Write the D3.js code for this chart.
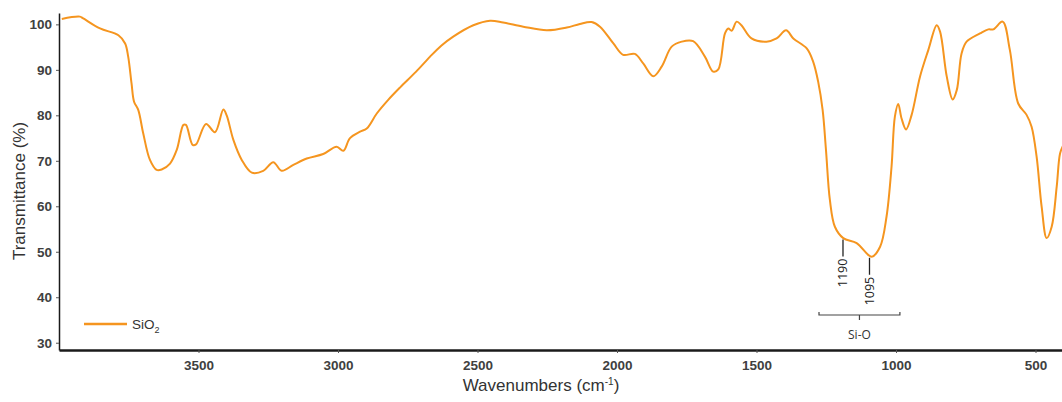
<!DOCTYPE html>
<html>
<head>
<meta charset="utf-8">
<script src="https://cdn.jsdelivr.net/npm/d3@7"></script>
<style>
  html, body { margin: 0; padding: 0; background: #fff; }
  svg { display: block; }
</style>
</head>
<body>
<svg id="chart" width="1062" height="402"></svg>
<script>
// ---- data ----
const wavenumbers = [3990,3925,3913,3853,3787,3763,3752,3740,3731,3716,3698,3674,3650,3632,3602,3578,3554,3545,3521,3509,3473,3441,3411,3399,3375,3345,3309,3268,3232,3202,3160,3112,3053,3005,2981,2957,2921,2897,2861,2820,2778,2720,2670,2630,2587,2515,2455,2408,2336,2252,2180,2133,2091,2061,2013,1978,1936,1906,1870,1840,1804,1768,1727,1685,1655,1637,1613,1601,1589,1571,1554,1518,1464,1428,1394,1368,1320,1297,1279,1263,1251,1237,1219,1189,1141,1087,1057,1034,1016,1004,992,980,964,944,914,884,854,842,818,797,782,765,747,699,669,651,618,592,562,532,514,496,478,460,442,424,412,400];
const transmittance = [101.2,101.7,101.3,99.1,97.6,95.8,92.9,87.0,83.0,81.2,76.0,70.2,68.0,68.1,69.4,72.4,77.9,77.9,73.5,73.6,78.1,76.3,81.3,80.0,74.6,70.2,67.4,67.8,69.7,67.8,69.1,70.5,71.5,73.1,72.2,75.0,76.4,77.1,80.4,83.4,86.1,89.6,92.9,95.3,97.3,99.8,100.8,100.4,99.5,98.7,99.3,100.1,100.5,99.5,95.8,93.3,93.5,91.4,88.6,90.7,95.1,96.2,96.3,92.9,89.6,90.1,98.0,99.1,98.6,100.6,99.8,96.9,96.2,96.9,98.7,96.9,94.7,91.8,87.4,81.2,72.4,61.4,55.5,53.0,51.9,48.9,51.1,57.7,68.7,79.7,82.5,79.3,76.9,80.1,88.5,94.4,99.8,98.4,88.5,83.5,85.6,93.6,96.2,98.0,98.9,98.9,100.6,94.4,82.6,80.1,77.5,70.9,59.9,53.0,55.5,64.3,71.6,73.5];
const xTicks = [3500,3000,2500,2000,1500,1000,500];
const yTicks = [30,40,50,60,70,80,90,100];
const peakLabels = ["1190","1095"];
const peakWavenumbers = [1190,1095];
const peakValues = [52.9,48.9];
const groupLabel = "Si-O";
const groupRange = [1276,986];
const seriesName = "SiO";
const seriesSub = "2";
const xTitle = "Wavenumbers (cm";
const yTitle = "Transmittance (%)";

// ---- layout ----
const svg = d3.select("#chart");
const mLeft = 59, mRight = 1063.4, mTop = 13, mBottom = 350;
const x = d3.scaleLinear().domain([4000, 400]).range([mLeft, mRight]);
const y = d3.scaleLinear().domain([28.4, 102.5]).range([mBottom, mTop]);
const orange = "#f5951f";
const font = "'Liberation Sans', Arial, sans-serif";

const data = wavenumbers.map((w, i) => ({w, t: transmittance[i]}));

// curve
const line = d3.line().x(d => x(d.w)).y(d => y(d.t)).curve(d3.curveCatmullRom.alpha(0.5));
svg.append("path").datum(data)
  .attr("d", line).attr("fill", "none")
  .attr("stroke", orange).attr("stroke-width", 2).attr("stroke-linejoin", "round");

// axes
const xAxis = d3.axisBottom(x).tickValues(xTicks).tickFormat(d3.format("d"))
  .tickSize(3).tickPadding(7).tickSizeOuter(0);
const gx = svg.append("g").attr("transform", `translate(0,${mBottom})`).call(xAxis);
gx.select(".domain").attr("stroke", "#1a1a1a").attr("stroke-width", 2.5);
gx.selectAll(".tick line").attr("stroke", "#555");
gx.selectAll(".tick text").attr("font-family", font).attr("font-size", 13.5)
  .attr("font-weight", "bold").attr("fill", "#404040");

const yAxis = d3.axisLeft(y).tickValues(yTicks).tickFormat(d3.format("d"))
  .tickSize(3).tickPadding(4).tickSizeOuter(0);
const gy = svg.append("g").attr("transform", `translate(${mLeft},0)`).call(yAxis);
gy.select(".domain").attr("stroke", "#1a1a1a").attr("stroke-width", 1.5);
gy.selectAll(".tick line").attr("stroke", "#555");
gy.selectAll(".tick text").attr("font-family", font).attr("font-size", 13.5)
  .attr("font-weight", "bold").attr("fill", "#404040");

// axis titles
const xt = svg.append("text").attr("x", 541).attr("y", 391)
  .attr("text-anchor", "middle").attr("font-family", font).attr("font-size", 17).attr("fill", "#333");
xt.append("tspan").text(xTitle);
xt.append("tspan").text("-1").attr("font-size", 10).attr("dy", -6);
xt.append("tspan").text(")").attr("dy", 6);

svg.append("text").attr("transform", "translate(25,191) rotate(-90)")
  .attr("text-anchor", "middle").attr("font-family", font).attr("font-size", 17).attr("fill", "#333")
  .text(yTitle);

// legend
svg.append("line").attr("x1", 84).attr("x2", 127).attr("y1", 324).attr("y2", 324)
  .attr("stroke", orange).attr("stroke-width", 2.5);
const lt = svg.append("text").attr("x", 132).attr("y", 329)
  .attr("font-family", font).attr("font-size", 13.5).attr("fill", "#333");
lt.append("tspan").text(seriesName);
lt.append("tspan").text(seriesSub).attr("font-size", 9).attr("dy", 4);

// peak annotations
const annFont = "'Open Sans', 'Liberation Sans', sans-serif";
peakLabels.forEach((lab, i) => {
  const px = x(peakWavenumbers[i]);
  const py0 = y(peakValues[i]) + 1;
  const py1 = py0 + 17;
  svg.append("line").attr("x1", px).attr("x2", px).attr("y1", py0).attr("y2", py1)
    .attr("stroke", "#222").attr("stroke-width", 1.3);
  svg.append("text").attr("transform", `translate(${px},${py1 + 2}) rotate(-90)`)
    .attr("text-anchor", "end").attr("dominant-baseline", "central")
    .attr("font-family", annFont).attr("font-size", 12.5).attr("fill", "#222").text(lab);
});

// group bracket
const bx0 = x(groupRange[0]), bx1 = x(groupRange[1]), by = 315;
const bmid = (bx0 + bx1) / 2;
svg.append("path")
  .attr("d", `M${bx0},${by - 3}L${bx0},${by}L${bx1},${by}L${bx1},${by - 3}M${bmid},${by}L${bmid},${by + 5}`)
  .attr("fill", "none").attr("stroke", "#444").attr("stroke-width", 1.2);
svg.append("text").attr("x", bmid).attr("y", 339).attr("text-anchor", "middle")
  .attr("font-family", annFont).attr("font-size", 12).attr("fill", "#333").text(groupLabel);
</script>
</body>
</html>
